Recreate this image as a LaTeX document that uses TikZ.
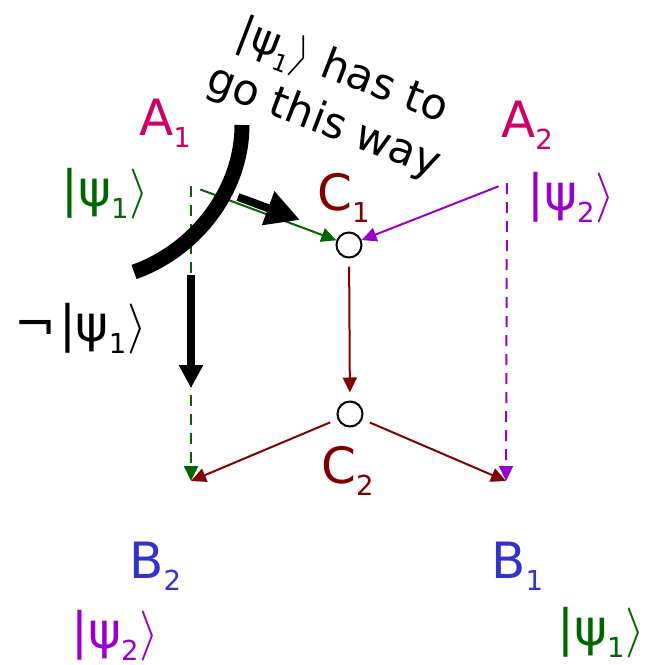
\documentclass[tikz,border=0pt]{standalone}
\usepackage{fix-cm}
\usepackage{fontspec}
\setmainfont{DejaVu Sans}
\usetikzlibrary{arrows.meta}
\definecolor{rose}{HTML}{CC0066}
\definecolor{leaf}{HTML}{006600}
\definecolor{lilac}{HTML}{9900CC}
\definecolor{wine}{HTML}{800000}
\definecolor{bluish}{HTML}{3333CC}
\tikzset{
  lbl/.style={anchor=base west,inner sep=0pt,font=\fontsize{50}{60}\selectfont},
  gate/.style={circle,draw,line width=2pt,fill=white,minimum size=25pt,inner sep=0pt},
  flow/.style={line width=2pt,-{Triangle[length=15pt,width=14pt]}},
  dashflow/.style={flow,dash pattern=on 11pt off 8pt},
  bigarrow/.style={line width=8pt,-{Triangle[length=#1,width=#1]}}
}
\newcommand{\low}[1]{\raisebox{-0.25em}{\scalebox{0.55}{#1}}}
\newcommand{\kt}[1]{|ψ\low{#1}\kern1pt$\rangle$}
\begin{document}
\begin{tikzpicture}[x=1pt,y=-1pt]
  \useasboundingbox (0,0) rectangle (656,665);
  \node[lbl,text=rose] (a1) at (139,135) {A\low{1}};
  \node[lbl,text=rose] (a2) at (501,137) {A\low{2}};
  \node[lbl,text=leaf] (k1) at (61,206) {\kt{1}};
  \node[lbl,text=lilac] (k2) at (527,210) {\kt{2}};
  \node[lbl,text=wine] (c1l) at (317,210) {C\low{1}};
  \node[lbl,text=wine] (c2l) at (321,483) {C\low{2}};
  \node[lbl,text=bluish] (b2) at (129,578) {B\low{2}};
  \node[lbl,text=bluish] (b1) at (491,578) {B\low{1}};
  \node[lbl,text=lilac] (k2b) at (71,648) {\kt{2}};
  \node[lbl,text=leaf] (k1b) at (557,645) {\kt{1}};
  \node[lbl] (notk) at (14,341) {¬\kern3pt\kt{1}};
  \node[rotate=-21,align=center,inner sep=0pt,font=\fontsize{43}{54}\selectfont] (note) at (333,97) {\kt{1} has to\\go this way};

  \node[gate] (c1) at (349,245) {};
  \node[gate] (c2) at (350,414) {};
  \coordinate (s1) at (191,186);
  \coordinate (s2) at (507,183);
  \coordinate (e2) at (191,481);
  \coordinate (e1) at (506,481);

  \draw[dashflow,leaf] (s1) -- (e2);
  \draw[dashflow,lilac] (s2) -- (e1);
  \draw[flow,leaf,shorten <=10pt] (s1) -- (c1);
  \draw[flow,lilac,shorten <=9pt] (s2) -- (c1);
  \draw[flow,wine,shorten <=8pt,shorten >=8pt] (c1) -- (c2);
  \draw[flow,wine,shorten <=8pt] (c2) -- (e2);
  \draw[flow,wine,shorten <=8pt] (c2) -- (e1);

  \coordinate (arcA) at (242,125);
  \coordinate (arcB) at (134,272);
  \draw[line width=15pt] (arcA) .. controls (242,190) and (196,250) .. (arcB);
  \coordinate (r0) at (238,197);
  \coordinate (r1) at (300,220);
  \draw[bigarrow=34pt] (r0) -- (r1);
  \coordinate (d0) at (191,275);
  \coordinate (d1) at (191,388);
  \draw[bigarrow=23pt] (d0) -- (d1);
\end{tikzpicture}
\end{document}
